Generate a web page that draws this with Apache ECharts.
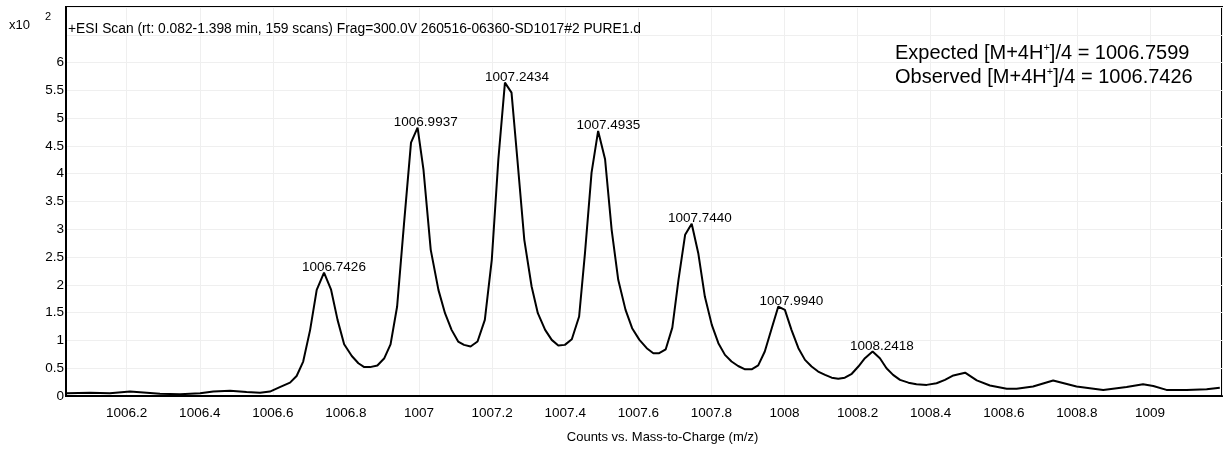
<!DOCTYPE html>
<html>
<head>
<meta charset="utf-8">
<script src="https://cdn.jsdelivr.net/npm/echarts@6/dist/echarts.min.js"></script>
<style>
  html, body { margin: 0; padding: 0; background: #fff; }
  #chart { width: 1225px; height: 451px; }
</style>
</head>
<body>
<div id="chart"></div>
<script>
// Profile spectrum: m/z values and counts (x10^2)
const mzValues = [
  1006.036, 1006.100, 1006.154, 1006.209, 1006.255, 1006.291, 1006.346, 1006.401,
  1006.437, 1006.483, 1006.528, 1006.565, 1006.592, 1006.619, 1006.647, 1006.665,
  1006.683, 1006.702, 1006.720, 1006.740, 1006.759, 1006.777, 1006.795, 1006.816,
  1006.834, 1006.850, 1006.866, 1006.886, 1006.905, 1006.922, 1006.940, 1006.959,
  1006.978, 1006.996, 1007.012, 1007.032, 1007.053, 1007.071, 1007.089, 1007.107,
  1007.123, 1007.141, 1007.160, 1007.180, 1007.199, 1007.217, 1007.235, 1007.253,
  1007.269, 1007.288, 1007.308, 1007.325, 1007.345, 1007.363, 1007.381, 1007.399,
  1007.418, 1007.438, 1007.454, 1007.472, 1007.490, 1007.509, 1007.527, 1007.545,
  1007.565, 1007.583, 1007.603, 1007.623, 1007.641, 1007.657, 1007.675, 1007.693,
  1007.710, 1007.728, 1007.746, 1007.764, 1007.782, 1007.801, 1007.819, 1007.837,
  1007.855, 1007.873, 1007.892, 1007.910, 1007.928, 1007.946, 1007.965, 1007.983,
  1008.001, 1008.019, 1008.038, 1008.056, 1008.074, 1008.092, 1008.111, 1008.129,
  1008.147, 1008.165, 1008.184, 1008.202, 1008.220, 1008.241, 1008.261, 1008.279,
  1008.297, 1008.316, 1008.339, 1008.361, 1008.389, 1008.416, 1008.439, 1008.462,
  1008.494, 1008.526, 1008.562, 1008.608, 1008.635, 1008.680, 1008.735, 1008.799,
  1008.872, 1008.936, 1008.981, 1009.009, 1009.045, 1009.100, 1009.155, 1009.191
];
const counts = [
  0.05, 0.06, 0.05, 0.08, 0.06, 0.04, 0.03, 0.05,
  0.08, 0.095, 0.07, 0.06, 0.08, 0.16, 0.24, 0.36,
  0.62, 1.19, 1.91, 2.22, 1.92, 1.37, 0.93, 0.72,
  0.59, 0.52, 0.52, 0.55, 0.68, 0.93, 1.61, 3.11,
  4.56, 4.83, 4.08, 2.63, 1.91, 1.49, 1.19, 0.98,
  0.92, 0.89, 0.98, 1.37, 2.45, 4.26, 5.64, 5.46,
  4.26, 2.81, 1.97, 1.49, 1.19, 1.01, 0.91, 0.92,
  1.02, 1.43, 2.57, 4.02, 4.77, 4.26, 2.99, 2.09,
  1.55, 1.22, 1.01, 0.86, 0.77, 0.77, 0.84, 1.23,
  2.10, 2.90, 3.10, 2.57, 1.79, 1.28, 0.95, 0.74,
  0.62, 0.54, 0.48, 0.48, 0.55, 0.80, 1.22, 1.61,
  1.55, 1.19, 0.86, 0.65, 0.53, 0.44, 0.38, 0.33,
  0.31, 0.33, 0.40, 0.53, 0.68, 0.80, 0.68, 0.50,
  0.38, 0.29, 0.24, 0.21, 0.20, 0.23, 0.29, 0.37,
  0.42, 0.28, 0.19, 0.13, 0.13, 0.17, 0.28, 0.17,
  0.11, 0.16, 0.21, 0.18, 0.11, 0.11, 0.12, 0.15
];

// Labelled isotope peaks (centroid m/z and apex height)
const peakMz = [1006.7426, 1006.9937, 1007.2434, 1007.4935, 1007.7440, 1007.9940, 1008.2418];
const peakCounts = [2.22, 4.83, 5.64, 4.77, 3.10, 1.61, 0.80];

// Axis ranges and tick spacing
const xRange = [1006.034, 1009.197];
const xTickStep = 0.2;
const yRange = [0, 7];
const yTickStep = 0.5;
const yLabelTop = 6;

const titleText = '+ESI Scan (rt: 0.082-1.398 min, 159 scans) Frag=300.0V 260516-06360-SD1017#2 PURE1.d';
const xAxisTitle = 'Counts vs. Mass-to-Charge (m/z)';
const expectedText = '{t|Expected [M+4H}{s|+}{t|]/4 = 1006.7599}';
const observedText = '{t|Observed [M+4H}{s|+}{t|]/4 = 1006.7426}';

const FONT = '"Liberation Sans", Arial, Helvetica, sans-serif';

const chart = echarts.init(document.getElementById('chart'), null, { renderer: 'canvas' });

function mzLabel(v) {
  const k = Math.round(v / xTickStep);
  if (Math.abs(v - k * xTickStep) > 1e-6) return '';
  return String(Math.round(v * 10) / 10);
}

const spectrum = mzValues.map((m, i) => [m, counts[i]]);
const peaks = peakMz.map((m, i) => [m, peakCounts[i]]);

const richRow = {
  t: { fontSize: 20, fontFamily: FONT, color: '#000', lineHeight: 24 },
  s: { fontSize: 11, fontFamily: FONT, color: '#000', lineHeight: 24, verticalAlign: 'top', padding: [1, 0, 0, 0] }
};

chart.setOption({
  animation: false,
  backgroundColor: '#fff',
  grid: {
    left: 66, right: 3, top: 7, bottom: 55,
    show: true, borderColor: '#000', borderWidth: 2, backgroundColor: 'transparent'
  },
  xAxis: {
    type: 'value',
    min: xRange[0], max: xRange[1],
    splitNumber: 16,
    axisLine: { show: true, lineStyle: { color: '#000', width: 2 } },
    axisTick: { show: false },
    splitLine: { show: true, lineStyle: { color: '#efefef', width: 1 } },
    axisLabel: {
      show: true, showMinLabel: false, showMaxLabel: false,
      color: '#000', fontSize: 13.5, fontFamily: FONT, margin: 10,
      formatter: mzLabel
    }
  },
  yAxis: {
    type: 'value',
    min: yRange[0], max: yRange[1], interval: yTickStep,
    axisLine: { show: true, lineStyle: { color: '#000', width: 2 } },
    axisTick: { show: false },
    splitLine: { show: true, lineStyle: { color: '#efefef', width: 1 } },
    axisLabel: {
      color: '#000', fontSize: 13.5, fontFamily: FONT, margin: 2,
      formatter: v => (v > yLabelTop ? '' : String(v))
    }
  },
  series: [
    {
      type: 'line',
      data: spectrum,
      symbol: 'none',
      smooth: false,
      lineStyle: { color: '#000', width: 2 },
      z: 3
    },
    {
      type: 'scatter',
      data: peaks,
      symbolSize: 1,
      itemStyle: { color: 'rgba(0,0,0,0)' },
      label: {
        show: true,
        position: [9.5, -5],
        align: 'center',
        verticalAlign: 'middle',
        color: '#000',
        opacity: 1,
        fontSize: 13.5,
        fontFamily: FONT,
        formatter: p => p.value[0].toFixed(4)
      },
      emphasis: { disabled: true },
      labelLayout: { hideOverlap: false },
      z: 4
    }
  ],
  graphic: [
    { type: 'text', z: 100, left: 9, top: 19, style: { text: 'x10', font: '13px ' + FONT, fill: '#000' } },
    { type: 'text', z: 100, left: 45, top: 11, style: { text: '2', font: '11px ' + FONT, fill: '#000' } },
    { type: 'text', z: 100, left: 68, top: 22, style: { text: titleText, font: '13.8px ' + FONT, fill: '#000' } },
    { type: 'text', z: 100, left: 895, top: 41, style: { text: expectedText, rich: richRow } },
    { type: 'text', z: 100, left: 895, top: 65, style: { text: observedText, rich: richRow } },
    { type: 'text', z: 100, x: 662.5, y: 437, style: { text: xAxisTitle, font: '13px ' + FONT, fill: '#000', align: 'center', verticalAlign: 'middle' } }
  ]
});
</script>
</body>
</html>
